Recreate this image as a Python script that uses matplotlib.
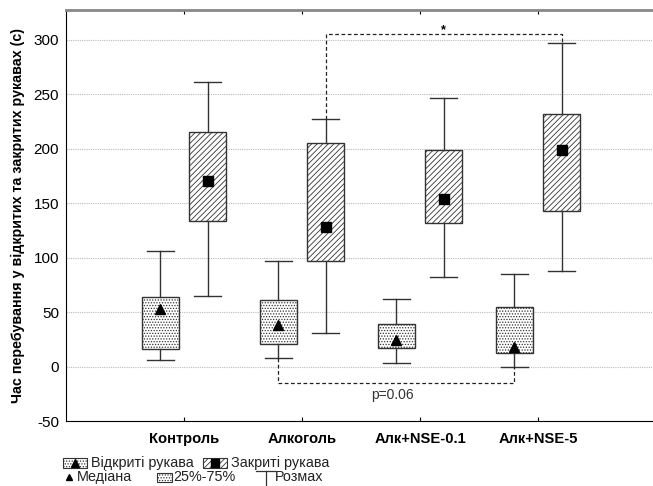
import matplotlib
matplotlib.use('Agg')
import matplotlib.pyplot as plt
from matplotlib.patches import Rectangle
from matplotlib.lines import Line2D

plt.rcParams['font.family'] = ['Liberation Sans', 'DejaVu Sans']
plt.rcParams['hatch.linewidth'] = 0.6
plt.rcParams['hatch.color'] = '#333333'
plt.rcParams['axes.unicode_minus'] = False

groups = ['Контроль', 'Алкоголь', 'Алк+NSE-0.1', 'Алк+NSE-5']

# відкриті рукава (c)
open_min = [6, 8, 3.5, 0]
open_q1 = [16.5, 20.5, 17, 12]
open_med = [53, 38, 24.5, 18]
open_q3 = [64, 61, 39, 55]
open_max = [106, 97, 62, 85]

# закриті рукава (c)
closed_min = [65, 31, 82, 88]
closed_q1 = [134, 97, 132, 143]
closed_med = [170, 128, 154, 199]
closed_q3 = [215, 205, 199, 232]
closed_max = [261, 227, 247, 297]

# порівняння: (група 1, група 2, рівень, підпис)
sig_closed = (1, 3, 305, '*')
sig_open = (1, 3, -15.5, 'p=0.06')

W, H = 653, 486
fig = plt.figure(figsize=(W / 100, H / 100), dpi=100)
ax = fig.add_axes([66 / W, 1 - 421 / H, 1 - 66 / W, (421 - 10) / H])

pos = [i + 1 for i in range(len(groups))]
off = 0.2
pos_open = [p - off for p in pos]
pos_closed = [p + off for p in pos]


def stats(lo, q1, med, q3, hi):
    return [dict(whislo=a, q1=b, med=c, q3=d, whishi=e, fliers=[])
            for a, b, c, d, e in zip(lo, q1, med, q3, hi)]


line_kw = dict(color='#333333', linewidth=1.0)
for st, px, hatch in [(stats(open_min, open_q1, open_med, open_q3, open_max), pos_open, '......'),
                      (stats(closed_min, closed_q1, closed_med, closed_q3, closed_max), pos_closed, '//////')]:
    bp = ax.bxp(st, positions=px, widths=0.32, capwidths=0.23, patch_artist=True,
                showfliers=False, boxprops=dict(facecolor='white', edgecolor='#333333', linewidth=1.0),
                whiskerprops=line_kw, capprops=line_kw,
                medianprops=dict(linewidth=0), zorder=3)
    for b in bp['boxes']:
        b.set_hatch(hatch)

ax.plot(pos_open, open_med, linestyle='none', marker='^', markersize=7, color='black', zorder=5)
ax.plot(pos_closed, closed_med, linestyle='none', marker='s', markersize=6.5, color='black', zorder=5)

dash = dict(color='#222222', linewidth=0.9, linestyle=(0, (3, 2)), zorder=4)
g1, g2, lev, lab = sig_closed
ax.plot([pos_closed[g1], pos_closed[g1], pos_closed[g2], pos_closed[g2]],
        [closed_max[g1], lev, lev, closed_max[g2]], **dash)
ax.annotate(lab, ((pos_closed[g1] + pos_closed[g2]) / 2, lev), xytext=(0, -1),
            textcoords='offset points', ha='center', va='bottom', fontsize=9, fontweight='bold')
g1, g2, lev, lab = sig_open
ax.plot([pos_open[g1], pos_open[g1], pos_open[g2], pos_open[g2]],
        [open_min[g1], lev, lev, open_min[g2]], **dash)
ax.annotate(lab, ((pos_open[g1] + pos_open[g2]) / 2 - 0.03, lev), xytext=(0, -3),
            textcoords='offset points', ha='center', va='top', fontsize=10, color='#333333')

ax.set_xlim(0, (W - 66) / 118)
ax.set_ylim(-50, 327.5)
ax.set_xticks(pos)
ax.set_xticklabels(groups, fontsize=10.6, fontweight='bold')
ax.set_yticks(range(-50, 301, 50))
ax.tick_params(axis='y', length=0, labelsize=11, pad=5)
ax.tick_params(axis='x', direction='in', length=3, top=True, pad=8)
ax.grid(axis='y', color='#bbbbbb', linestyle=(0, (1, 1)), linewidth=0.8, zorder=0)
ax.set_axisbelow(True)
ax.spines['right'].set_visible(False)
ax.spines['top'].set_color('#888888')
ax.spines['top'].set_linewidth(2)
ax.set_ylabel('Час перебування у відкритих та закритих рукавах (с)', fontsize=10.3,
              fontweight='bold', labelpad=6)


# легенда
def fx(x):
    return x / W


def fy(y):
    return 1 - y / H


def box_icon(x0, x1, yc, h, hatch):
    fig.add_artist(Rectangle((fx(x0), fy(yc + h / 2)), fx(x1 - x0), h / H, transform=fig.transFigure,
                             facecolor='white', edgecolor='#333333', linewidth=0.8, hatch=hatch))


r1, r2 = 463, 477
box_icon(63, 87, r1, 10, '......')
fig.add_artist(Line2D([fx(75)], [fy(r1)], marker='^', markersize=6, color='black', transform=fig.transFigure))
fig.text(fx(91), fy(r1), 'Відкриті рукава', fontsize=10.4, va='center', color='#222222')
box_icon(203, 227, r1, 10, '//////')
fig.add_artist(Line2D([fx(215)], [fy(r1)], marker='s', markersize=5.5, color='black', transform=fig.transFigure))
fig.text(fx(231), fy(r1), 'Закриті рукава', fontsize=10.4, va='center', color='#222222')

fig.add_artist(Line2D([fx(69)], [fy(r2)], marker='^', markersize=4.5, color='black', transform=fig.transFigure))
fig.text(fx(77), fy(r2), 'Медіана', fontsize=10.4, va='center', color='#222222')
box_icon(157, 172, r2, 9, '......')
fig.text(fx(173), fy(r2), '25%-75%', fontsize=10.4, va='center', color='#222222')
fig.add_artist(Line2D([fx(256), fx(275)], [fy(471), fy(471)], color='#333333', linewidth=0.9, transform=fig.transFigure))
fig.add_artist(Line2D([fx(265.5), fx(265.5)], [fy(471), fy(486)], color='#333333', linewidth=0.9, transform=fig.transFigure))
fig.text(fx(275), fy(r2), 'Розмах', fontsize=10.4, va='center', color='#222222')

fig.savefig('out.png', dpi=100)
